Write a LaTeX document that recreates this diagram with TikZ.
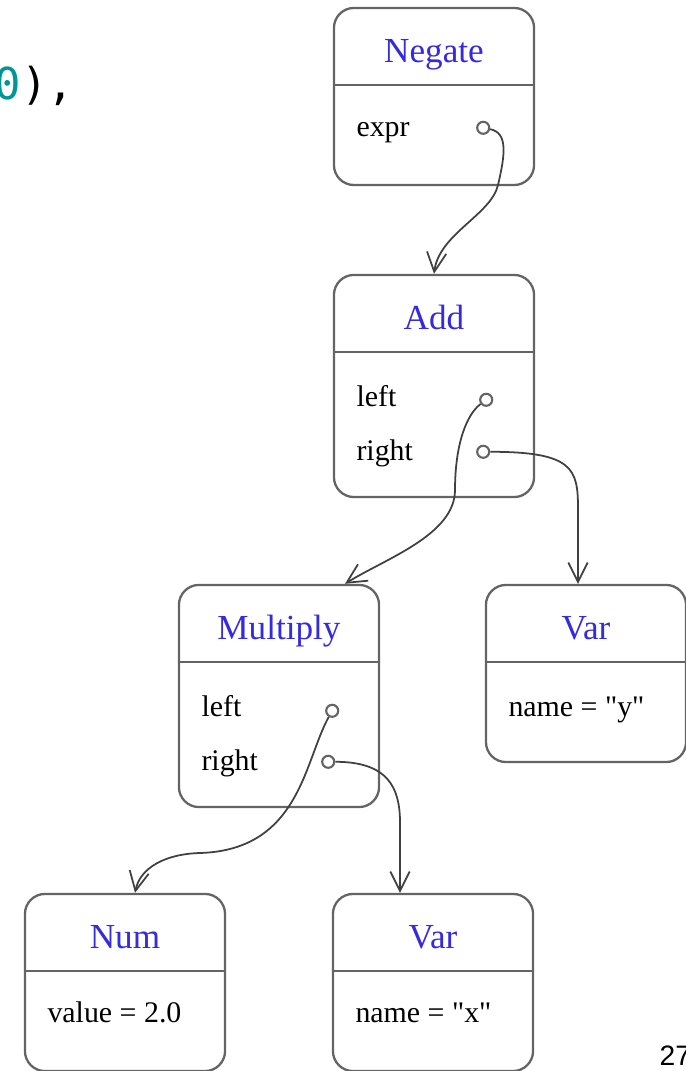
\documentclass[tikz,border=0pt]{standalone}
\usepackage{fontspec}
\setmainfont{Liberation Serif}
\newfontfamily\codefont{DejaVu Sans Mono}
\newfontfamily\pagefont{Liberation Sans}
\usetikzlibrary{calc,arrows.meta}
\definecolor{classblue}{RGB}{52,42,222}
\definecolor{boxgray}{RGB}{100,100,100}
\definecolor{codeteal}{RGB}{0,150,150}

\begin{document}
\begin{tikzpicture}[x=0.01cm, y=-0.01cm,
    objbox/.style={draw=boxgray, line width=0.65pt, rounded corners=0.2cm, minimum width=2cm, inner sep=0pt},
    onefield/.style={objbox, minimum height=1.77cm},
    twofield/.style={objbox, minimum height=2.22cm},
    classname/.style={anchor=base, text=classblue, inner sep=0pt, font=\fontsize{10}{12}\selectfont},
    field/.style={anchor=base west, inner sep=0pt, font=\fontsize{8.5}{10}\selectfont},
    slot/.style={circle, draw=boxgray, line width=0.6pt, minimum size=0.12cm, inner sep=0pt},
    divider/.style={draw=boxgray, line width=0.65pt},
    ptr/.style={draw=black!75, line width=0.5pt, -{Straight Barb[length=5.5pt,width=5.5pt]}}]
    \useasboundingbox (0,0) rectangle (686,1071);

    % code fragment and page number
    \node[anchor=base west, inner sep=0pt, font=\codefont\fontsize{12.5}{15}\selectfont] (code) at (-6,100) {\textcolor{codeteal}{0}),};
    \node[anchor=base west, inner sep=0pt, font=\pagefont\fontsize{8}{10}\selectfont] (page) at (659,1065) {27};

    % objects
    \node[onefield] (negate) at (434,96.5) {};
    \node[twofield] (add) at (434,386) {};
    \node[twofield] (mul) at (279,696) {};
    \node[onefield] (vary) at (586,673.5) {};
    \node[onefield] (num) at (125,982.5) {};
    \node[onefield] (varx) at (433,982.5) {};

    \foreach \b/\t in {negate/Negate, add/Add, mul/Multiply, vary/Var, num/Num, varx/Var} {
        \node[classname] (\b-title) at ($(\b.north)+(0,56)$) {\t};
        \draw[divider] ($(\b.north west)+(0,78)$) -- ($(\b.north east)+(0,78)$);
    }

    % fields
    \node[field] (negate-expr) at ($(negate.north west)+(23,130)$) {expr};
    \node[slot] (negate-exprslot) at ($(negate.north east)+(-52,121)$) {};
    \node[field] (add-left) at ($(add.north west)+(23,133)$) {left};
    \node[slot] (add-leftslot) at ($(add.north east)+(-49,126)$) {};
    \node[field] (add-right) at ($(add.north west)+(23,187)$) {right};
    \node[slot] (add-rightslot) at ($(add.north east)+(-52,178)$) {};
    \node[field] (mul-left) at ($(mul.north west)+(23,133)$) {left};
    \node[slot] (mul-leftslot) at ($(mul.north east)+(-48,127)$) {};
    \node[field] (mul-right) at ($(mul.north west)+(23,187)$) {right};
    \node[slot] (mul-rightslot) at ($(mul.north east)+(-52,178)$) {};
    \node[field] (vary-name) at ($(vary.north west)+(23,133)$) {name = \textquotedbl y\textquotedbl};
    \node[field] (num-value) at ($(num.north west)+(23,130)$) {value = 2.0};
    \node[field] (varx-name) at ($(varx.north west)+(23,130)$) {name = \textquotedbl x\textquotedbl};

    % pointer entry points
    \coordinate (mul-in) at ($(mul.north)+(66,0)$);
    \coordinate (vary-in) at ($(vary.north)+(-8,0)$);
    \coordinate (num-in) at ($(num.north)+(10,0)$);
    \coordinate (varx-in) at ($(varx.north)+(-33,0)$);

    % pointers
    \draw[ptr] (negate-exprslot) .. controls +(25,5) and +(7,-30) .. (498,185) .. controls +(-7,30) and +(5,-40) .. (add.north);
    \draw[ptr] (add-leftslot) .. controls +(-20,15) and +(0,-45) .. (455,490) .. controls +(0,45) and +(40,-25) .. (mul-in);
    \draw[ptr] (add-rightslot) .. controls +(90,0) and +(0,-40) .. ($(vary-in)+(0,-75)$) -- (vary-in);
    \draw[ptr] (mul-leftslot) .. controls +(-28,50) and +(100,-3) .. (200,853) .. controls +(-35,1) and +(5,-25) .. (num-in);
    \draw[ptr] (mul-rightslot) .. controls +(60,0) and +(0,-35) .. ($(varx-in)+(0,-70)$) -- (varx-in);
\end{tikzpicture}
\end{document}
